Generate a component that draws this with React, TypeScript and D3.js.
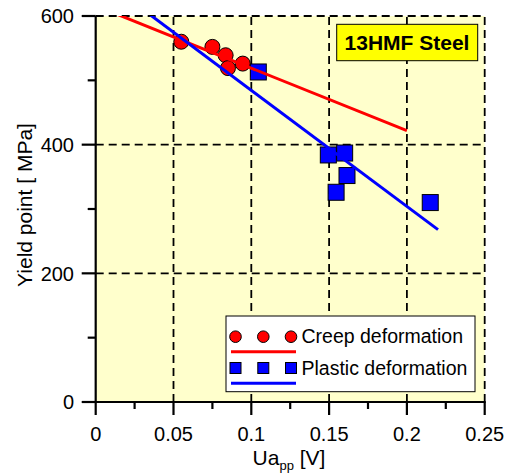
import React from "react";
import * as d3 from "d3";

const creepX = [0.055, 0.075, 0.0835, 0.085, 0.0945];
const creepY = [560, 552, 539, 519, 526];
const plasticX = [0.1045, 0.1495, 0.16, 0.1615, 0.1545, 0.215];
const plasticY = [513, 384, 387, 352, 326, 310];
const creepFitX = [0, 0.2];
const creepFitY = [616, 421.8];
const plasticFitX = [0, 0.22];
const plasticFitY = [665, 268];
const xMajor = [0, 0.05, 0.1, 0.15, 0.2, 0.25];
const xMinor = [0.025, 0.075, 0.125, 0.175, 0.225];
const yMajor = [0, 200, 400, 600];
const yMinor = [100, 300, 500];
const legendLabels = ["Creep deformation", "Plastic deformation"];
const title = "13HMF Steel";

const W = 512, H = 475;
const L = 95.7, R = 484.7, T = 16, B = 402;
const font = "Arial, 'Liberation Sans', sans-serif";

export default function App() {
  const x = d3.scaleLinear().domain([0, 0.25]).range([L, R]);
  const y = d3.scaleLinear().domain([0, 600]).range([B, T]);
  const line = d3.line<[number, number]>().x(d => x(d[0])).y(d => y(d[1]));
  const creepFit = line(creepFitX.map((v, i) => [v, creepFitY[i]]) as [number, number][]) || "";
  const plasticFit = line(plasticFitX.map((v, i) => [v, plasticFitY[i]]) as [number, number][]) || "";
  const sq = 16;
  return (
    <svg width={W} height={H} style={{ position: "absolute", left: 0, top: 0, background: "#fff" }} fontFamily={font}>
      <defs>
        <clipPath id="plot">
          <rect x={L} y={T} width={R - L} height={B - T} />
        </clipPath>
      </defs>
      <rect x={L} y={T} width={R - L} height={B - T} fill="#ffffcc" />
      {/* grid */}
      {xMajor.filter(v => v > 0).map(v => (
        <line key={"gx" + v} x1={x(v)} x2={x(v)} y1={B} y2={T} stroke="#000" strokeWidth={1.8} strokeDasharray="8,5" />
      ))}
      {yMajor.filter(v => v > 0).map(v => (
        <line key={"gy" + v} x1={L} x2={R} y1={y(v)} y2={y(v)} stroke="#000" strokeWidth={1.8} strokeDasharray="8,5" />
      ))}
      {/* markers */}
      {creepX.map((v, i) => (
        <circle key={"c" + i} cx={x(v)} cy={y(creepY[i])} r={7.5} fill="#ff0000" stroke="#000" strokeWidth={1} />
      ))}
      {plasticX.map((v, i) => (
        <rect key={"s" + i} x={x(v) - sq / 2} y={y(plasticY[i]) - sq / 2} width={sq} height={sq} fill="#0000ff" stroke="#000" strokeWidth={1} />
      ))}
      <g clipPath="url(#plot)">
        <path d={creepFit} stroke="#ff0000" strokeWidth={3} fill="none" />
        <path d={plasticFit} stroke="#0000ff" strokeWidth={3} fill="none" />
      </g>
      {/* axes */}
      <line x1={L} x2={L} y1={T} y2={B + 1} stroke="#000" strokeWidth={2.2} />
      <line x1={L - 1} x2={R + 1} y1={B} y2={B} stroke="#000" strokeWidth={2.2} />
      {yMajor.map(v => (
        <g key={"ty" + v}>
          <line x1={L - 14} x2={L} y1={y(v)} y2={y(v)} stroke="#000" strokeWidth={2.2} />
          <text x={74} y={y(v)} dy="0.36em" textAnchor="end" fontSize={20}>{v}</text>
        </g>
      ))}
      {yMinor.map(v => (
        <line key={"my" + v} x1={L - 8} x2={L} y1={y(v)} y2={y(v)} stroke="#000" strokeWidth={2.2} />
      ))}
      {xMajor.map(v => (
        <g key={"tx" + v}>
          <line x1={x(v)} x2={x(v)} y1={B} y2={B + 13} stroke="#000" strokeWidth={2.2} />
          <text x={x(v)} y={441} textAnchor="middle" fontSize={20}>{String(v)}</text>
        </g>
      ))}
      {xMinor.map(v => (
        <line key={"mx" + v} x1={x(v)} x2={x(v)} y1={B} y2={B + 7} stroke="#000" strokeWidth={2.2} />
      ))}
      {/* axis titles */}
      <text transform={`translate(32,205) rotate(-90)`} textAnchor="middle" fontSize={21}>Yield point [ MPa]</text>
      <text x={289} y={465} textAnchor="middle" fontSize={21}>
        Ua<tspan fontSize={13} dy={5}>pp</tspan><tspan dy={-5}> [V]</tspan>
      </text>
      {/* title box */}
      <rect x={336.7} y={24.3} width={141} height={36.4} fill="#ffff00" stroke="#000" strokeWidth={1} />
      <text x={407} y={50} textAnchor="middle" fontSize={21} fontWeight="bold">{title}</text>
      {/* legend */}
      <rect x={226} y={316} width={249} height={75.7} fill="#fff" stroke="#000" strokeWidth={1} />
      {[235.5, 263.3, 291].map((cx, i) => (
        <circle key={"lc" + i} cx={cx} cy={336.7} r={5.8} fill="#ff0000" stroke="#000" strokeWidth={1} />
      ))}
      <line x1={231} x2={296} y1={351.7} y2={351.7} stroke="#ff0000" strokeWidth={3} />
      {[235.5, 263.3, 291].map((cx, i) => (
        <rect key={"ls" + i} x={cx - 5.5} y={368 - 5.5} width={11} height={11} fill="#0000ff" stroke="#000" strokeWidth={1} />
      ))}
      <line x1={231} x2={296} y1={383.3} y2={383.3} stroke="#0000ff" strokeWidth={3} />
      <text x={301.5} y={342.7} fontSize={19.5}>{legendLabels[0]}</text>
      <text x={301.5} y={374.5} fontSize={19.5}>{legendLabels[1]}</text>
    </svg>
  );
}
